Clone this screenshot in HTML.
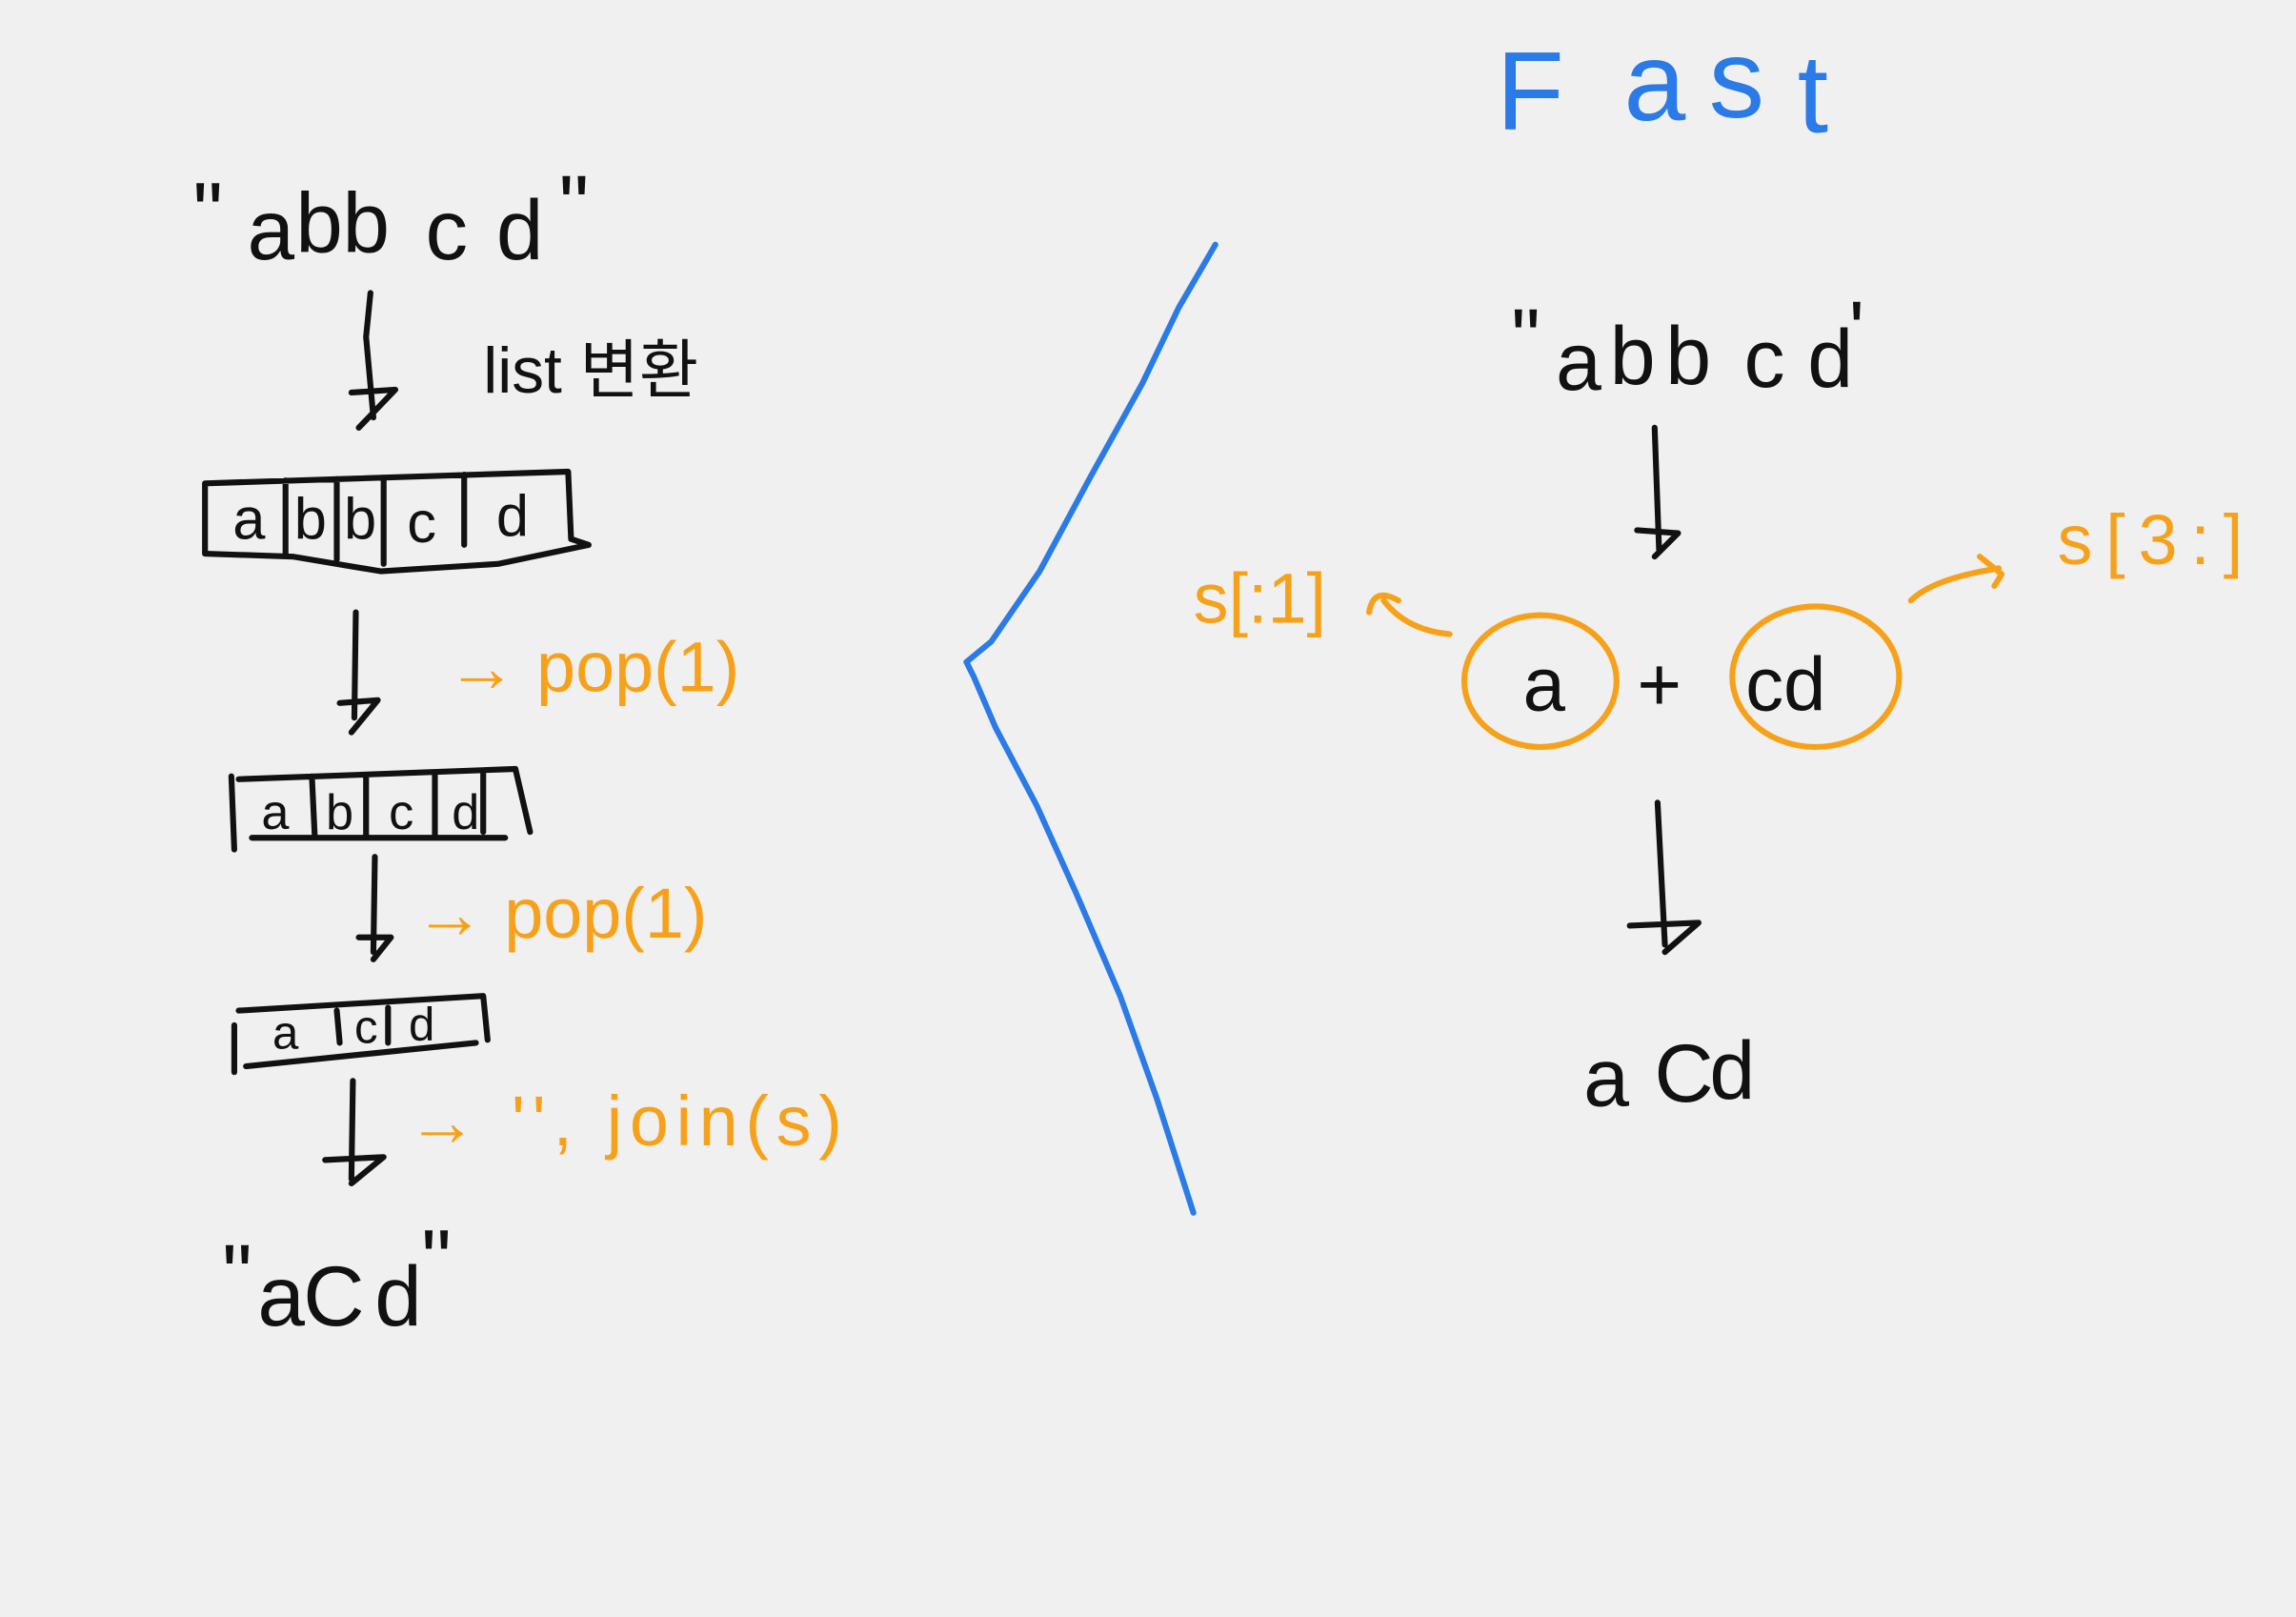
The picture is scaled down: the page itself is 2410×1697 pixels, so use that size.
<!DOCTYPE html>
<html><head><meta charset="utf-8"><style>
html,body{margin:0;padding:0;background:#f0f0f0;}
svg{display:block;}
text{font-family:"Liberation Sans","Noto Sans CJK KR",sans-serif;}
.k{fill:#111;}
.o{fill:#f7a11a;}
.b{fill:#2a7ae8;}
</style></head><body>
<svg width="2410" height="1697" viewBox="0 0 1568 1104" xmlns="http://www.w3.org/2000/svg">
<rect width="1568" height="1104" fill="#f0f0f0"/>
<g fill="none" stroke-linecap="round" stroke-linejoin="round">
<!-- left flow -->
<g class="k" font-size="58" text-anchor="middle">
<text x="142" y="165">"</text><text x="185" y="177">a</text><text x="218" y="172">b</text><text x="250" y="172">b</text><text x="305" y="177">c</text><text x="355" y="177">d</text><text x="392" y="160">"</text>
</g>
<path d="M253 200 L250 230 L255 285 M240 268 L270 266 L245 292" stroke="#111" stroke-width="4"/>
<text class="k" x="330" y="268" font-size="44">list 변환</text>
<path d="M140 330 L388 322 L390 368 L402 372 L340 385 L260 390 L200 380 L140 378 Z M195 328 L195 378 M230 327 L230 382 M262 326 L262 385 M317 324 L317 372" stroke="#111" stroke-width="4"/>
<g class="k" font-size="40" text-anchor="middle">
<text x="170" y="368">a</text><text x="212" y="368">b</text><text x="246" y="368">b</text><text x="288" y="370">c</text><text x="350" y="366">d</text>
</g>
<path d="M243 418 L242 490 M232 480 L258 478 L240 500" stroke="#111" stroke-width="4"/>
<text class="o" x="305" y="472" font-size="48">→ pop(1)</text>
<path d="M158 530 L160 580 M163 532 L352 525 L362 568 M172 572 L345 572 M213 530 L215 572 M250 530 L250 572 M297 528 L297 570 M330 528 L330 568" stroke="#111" stroke-width="4"/>
<g class="k" font-size="34" text-anchor="middle">
<text x="188" y="566">a</text><text x="232" y="566">b</text><text x="274" y="566">c</text><text x="318" y="566">d</text>
</g>
<path d="M256 585 L255 650 M245 640 L267 640 L255 655" stroke="#111" stroke-width="4"/>
<text class="o" x="283" y="640" font-size="48">→ pop(1)</text>
<path d="M160 700 L160 732 M163 690 L330 680 L333 710 M168 728 L325 712 M230 690 L232 712 M265 688 L265 712" stroke="#111" stroke-width="4"/>
<g class="k" font-size="32" text-anchor="middle">
<text x="195" y="716">a</text><text x="250" y="712">c</text><text x="288" y="710">d</text>
</g>
<path d="M241 738 L240 805 M222 792 L262 790 L240 808" stroke="#111" stroke-width="4"/>
<text class="o" x="278" y="782" font-size="48" letter-spacing="5">→ '', join(s)</text>
<g class="k" font-size="58" text-anchor="middle">
<text x="162" y="890">"</text><text x="192" y="905">a</text><text x="228" y="905">C</text><text x="272" y="905">d</text><text x="298" y="880">"</text>
</g>
<!-- divider bracket -->
<path d="M830 167 L805 210 L780 262 L745 325 L710 390 L677 438 L660 452 L665 462 L680 497 L708 550 L735 610 L765 680 L790 750 L815 828" stroke="#2a7ae8" stroke-width="4"/>
<!-- right flow -->
<g class="b" font-size="76" text-anchor="middle">
<text x="1045" y="88">F</text><text x="1130" y="82">a</text><text x="1186" y="80">s</text><text x="1238" y="90">t</text>
</g>
<g class="k" font-size="56" text-anchor="middle">
<text x="1042" y="250">"</text><text x="1078" y="266">a</text><text x="1115" y="262">b</text><text x="1153" y="262">b</text><text x="1205" y="264">c</text><text x="1250" y="264">d</text><text x="1268" y="245">'</text>
</g>
<path d="M1130 292 L1133 375 M1118 362 L1146 364 L1130 380" stroke="#111" stroke-width="4"/>
<ellipse cx="1052" cy="465" rx="52" ry="45" stroke="#f7a11a" stroke-width="4"/>
<ellipse cx="1240" cy="462" rx="57" ry="48" stroke="#f7a11a" stroke-width="4"/>
<text class="k" x="1040" y="485" font-size="52">a</text>
<text class="k" x="1118" y="485" font-size="52">+</text>
<text class="k" x="1192" y="485" font-size="52">cd</text>
<text class="o" x="815" y="425" font-size="48">s[:1]</text>
<path d="M990 433 Q960 430 945 410 M935 418 Q938 400 955 410" stroke="#f7a11a" stroke-width="4"/>
<text class="o" x="1405" y="385" font-size="48" letter-spacing="9">s[3:]</text>
<path d="M1305 410 Q1320 395 1365 388 M1352 380 L1367 392 L1362 400" stroke="#f7a11a" stroke-width="4"/>
<path d="M1132 548 L1137 645 M1113 632 L1160 630 L1137 650" stroke="#111" stroke-width="4"/>
<g class="k" font-size="56" text-anchor="middle">
<text x="1097" y="755">a</text><text x="1150" y="752">C</text><text x="1183" y="750">d</text>
</g>
</g>
</svg>
</body></html>
